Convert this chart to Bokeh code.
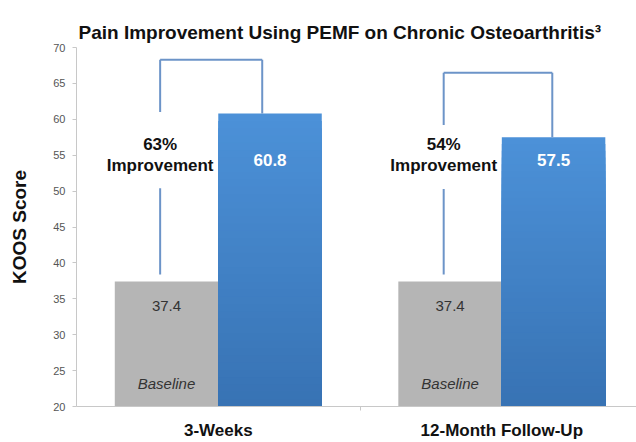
import numpy as np
from bokeh.plotting import figure
from bokeh.models import Range1d, FixedTicker
from bokeh.core.properties import value
from bokeh.embed import file_html
from bokeh.resources import INLINE

# ---- data ----
categories = ["3-Weeks", "12-Month Follow-Up"]
baseline = [37.4, 37.4]
treated = [60.8, 57.5]
improvement = ["63%", "54%"]
y_ticks = [20, 25, 30, 35, 40, 45, 50, 55, 60, 65, 70]

# ---- annotation layout (data units) ----
bracket_top = [68.3, 66.5]
gap_low = [50.4, 50.3]
gap_high = [61.0, 59.2]
bracket_left_off = -0.205
bracket_right_off = [0.155, 0.178]

FONT = value("Liberation Sans")
GRAY = "#b5b5b5"
BLUE_TOP = np.array([0x4c, 0x91, 0xd8])
BLUE_BOT = np.array([0x37, 0x72, 0xb3])
BRACKET = "#6c94c8"

xc = np.arange(len(categories)) + 0.5
bw = 0.365
off = 0.1825

p = figure(width=636, height=442, x_range=Range1d(0, 1.975), y_range=Range1d(20, 70),
           output_backend="svg", toolbar_location=None,
           min_border_left=76, min_border_right=0, min_border_top=47, min_border_bottom=36,
           title="Pain Improvement Using PEMF on Chronic Osteoarthritis\u00b3")
p.title.text_font = "Liberation Sans"
p.title.text_font_size = "19px"
p.title.text_font_style = "bold"
p.title.text_color = "#111111"
p.title.align = "left"
p.title.offset = 2
p.title.standoff = 10

p.outline_line_color = None
p.grid.grid_line_color = None
p.background_fill_color = "white"
p.border_fill_color = "white"

# bars
p.vbar(x=xc - off, top=baseline, bottom=20, width=bw, fill_color=GRAY, line_color=None)
N = 40
tv = np.array(treated)
for k in range(N):
    frac = (N - k) / N
    col = BLUE_BOT + (BLUE_TOP - BLUE_BOT) * frac
    hexc = "#%02x%02x%02x" % tuple(int(round(c)) for c in col)
    p.vbar(x=xc + off, top=20 + (tv - 20) * frac, bottom=20, width=bw,
           fill_color=hexc, line_color=None)

# brackets
lx = xc + bracket_left_off
rx = xc + np.array(bracket_right_off)
base = np.array(baseline)
p.segment(x0=lx, y0=base + 1.0, x1=lx, y1=gap_low, line_color=BRACKET, line_width=2)
p.segment(x0=lx, y0=gap_high, x1=lx, y1=bracket_top, line_color=BRACKET, line_width=2)
p.segment(x0=lx, y0=bracket_top, x1=rx, y1=bracket_top, line_color=BRACKET, line_width=2)
p.segment(x0=rx, y0=bracket_top, x1=rx, y1=treated, line_color=BRACKET, line_width=2)

# texts
p.text(x=lx, y=[56.5] * 2, text=improvement, text_align="center", text_baseline="middle",
       text_font=FONT, text_font_size="17px", text_font_style="bold", text_color="#111111")
p.text(x=lx, y=[53.6] * 2, text=["Improvement"] * 2, text_align="center", text_baseline="middle",
       text_font=FONT, text_font_size="17px", text_font_style="bold", text_color="#111111")
p.text(x=xc + off, y=[54.4] * 2, text=[f"{v:.1f}" for v in treated], text_align="center",
       text_baseline="middle", text_font=FONT, text_font_size="17px", text_font_style="bold",
       text_color="white")
p.text(x=xc - off, y=[34.0] * 2, text=[f"{v:.1f}" for v in baseline], text_align="center",
       text_baseline="middle", text_font=FONT, text_font_size="15px", text_color="#333333")
p.text(x=xc - off, y=[23.2] * 2, text=["Baseline"] * 2, text_align="center",
       text_baseline="middle", text_font=FONT, text_font_size="15px", text_font_style="italic",
       text_color="#333333")

# axes
p.yaxis.ticker = FixedTicker(ticks=y_ticks)
p.yaxis.axis_label = "KOOS Score"
p.yaxis.axis_label_text_font = "Liberation Sans"
p.yaxis.axis_label_text_font_size = "19px"
p.yaxis.axis_label_text_font_style = "bold"
p.yaxis.axis_label_text_color = "#111111"
p.yaxis.axis_label_standoff = 20
p.yaxis.major_label_text_font = "Liberation Sans"
p.yaxis.major_label_text_font_size = "11px"
p.yaxis.major_label_text_color = "#555555"
p.yaxis.axis_line_color = "#c8c8c8"
p.yaxis.major_tick_line_color = "#c8c8c8"
p.yaxis.major_tick_out = 4
p.yaxis.major_tick_in = 0
p.yaxis.minor_tick_line_color = None
p.yaxis.major_label_standoff = 7

p.xaxis.ticker = FixedTicker(ticks=list(xc), minor_ticks=[1.0])
p.xaxis.major_label_overrides = {float(x): c for x, c in zip(xc, categories)}
p.xaxis.major_label_text_font = "Liberation Sans"
p.xaxis.major_label_text_font_size = "17px"
p.xaxis.major_label_text_font_style = "bold"
p.xaxis.major_label_text_color = "#111111"
p.xaxis.axis_line_color = "#c8c8c8"
p.xaxis.major_tick_line_color = None
p.xaxis.minor_tick_line_color = "#c8c8c8"
p.xaxis.minor_tick_out = 4
p.xaxis.minor_tick_in = 0
p.xaxis.major_label_standoff = 8

open("out.html", "w").write(file_html(p, INLINE))
